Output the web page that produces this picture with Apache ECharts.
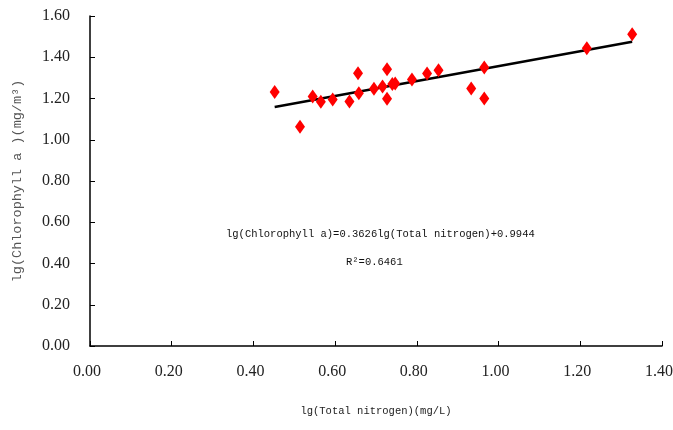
<!DOCTYPE html>
<html>
<head>
<meta charset="utf-8">
<script src="https://cdn.jsdelivr.net/npm/echarts@6/dist/echarts.min.js"></script>
<style>
  html, body { margin: 0; padding: 0; background: #fff; }
  #chart { width: 673px; height: 430px; }
</style>
</head>
<body>
<div id="chart"></div>
<script>
// lg(Total nitrogen) values
const totalN = [0.452, 0.514, 0.545, 0.565, 0.594, 0.635, 0.656, 0.658, 0.695, 0.716, 0.727,
  0.727, 0.740, 0.747, 0.788, 0.825, 0.853, 0.933, 0.965, 0.965, 1.216, 1.327]
// lg(Chlorophyll a) values
const chla = [1.232, 1.063, 1.210, 1.184, 1.195, 1.186, 1.323, 1.226, 1.247, 1.258, 1.342,
  1.199, 1.270, 1.273, 1.292, 1.321, 1.337, 1.248, 1.350, 1.200, 1.444, 1.512]

// fitted line from the printed equation
const slope = 0.3626
const intercept = 0.9944
const fitX = [0.452, 1.327]

const eqText = 'lg(Chlorophyll a)=0.3626lg(Total nitrogen)+0.9944'
const r2Text = 'R²=0.6461'

const mono = '"Liberation Mono", "DejaVu Sans Mono", monospace'
const serif = '"Liberation Serif", "DejaVu Serif", serif'

const chart = echarts.init(document.getElementById('chart'))

const option = {
  animation: false,
  grid: {
    left: 90,
    right: 11,
    top: 16,
    bottom: 84,
    outerBoundsMode: 'none'
  },
  xAxis: {
    type: 'value',
    min: 0,
    max: 1.4,
    interval: 0.2,
    name: 'lg(Total nitrogen)(mg/L)',
    nameLocation: 'middle',
    nameGap: 60,
    nameTextStyle: { fontFamily: mono, fontSize: 10.5, color: '#222' },
    axisLine: { lineStyle: { color: '#000', width: 1.5 } },
    axisTick: { inside: true, length: 5, lineStyle: { color: '#000' } },
    axisLabel: {
      margin: 18,
      padding: [0, 6, 0, 0],
      fontFamily: serif,
      fontSize: 16,
      color: '#222',
      formatter: v => v.toFixed(2)
    },
    splitLine: { show: false }
  },
  yAxis: {
    type: 'value',
    min: 0,
    max: 1.6,
    interval: 0.2,
    name: 'lg(Chlorophyll a )(mg/m³)',
    nameLocation: 'middle',
    nameGap: 66,
    nameTextStyle: { fontFamily: mono, fontSize: 13.5, color: '#555' },
    axisLine: { show: true, lineStyle: { color: '#000', width: 1.5 } },
    axisTick: { show: true, inside: true, length: 5, lineStyle: { color: '#000' } },
    axisLabel: {
      margin: 20,
      padding: [6, 0, 0, 0],
      fontFamily: serif,
      fontSize: 16,
      color: '#222',
      formatter: v => v.toFixed(2)
    },
    splitLine: { show: false }
  },
  graphic: [
    {
      type: 'text',
      left: 226,
      top: 229,
      style: { text: eqText, font: '10.5px ' + mono, fill: '#111' }
    },
    {
      type: 'text',
      left: 346,
      top: 257,
      style: { text: r2Text, font: '10.5px ' + mono, fill: '#111' }
    }
  ],
  series: [
    {
      type: 'line',
      data: fitX.map(x => [x, slope * x + intercept]),
      symbol: 'none',
      lineStyle: { color: '#000', width: 2.5 },
      z: 1
    },
    {
      type: 'scatter',
      data: totalN.map((x, i) => [x, chla[i]]),
      symbol: 'diamond',
      symbolSize: [10, 14],
      itemStyle: { color: '#ff0000', opacity: 1 },
      z: 2
    }
  ]
}

chart.setOption(option)
</script>
</body>
</html>
